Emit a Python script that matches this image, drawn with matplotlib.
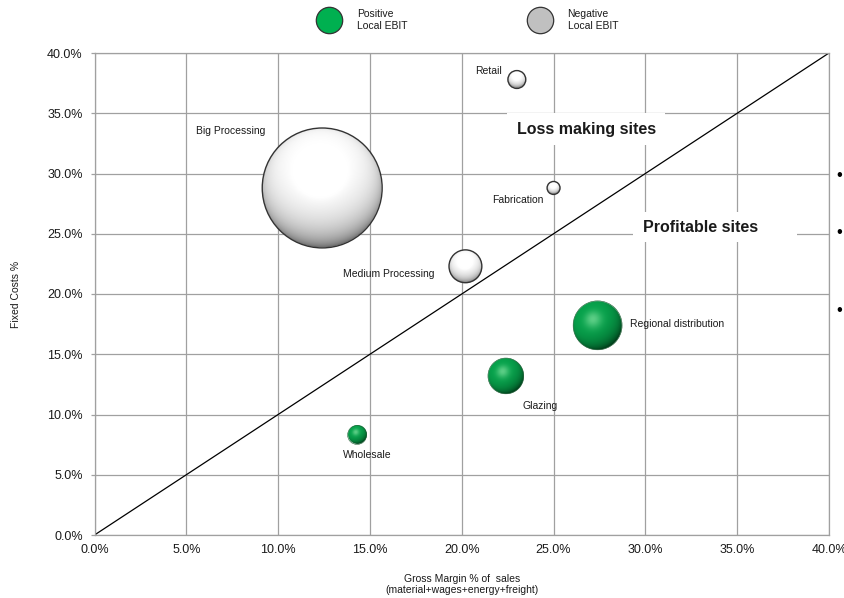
import numpy as np
import matplotlib
matplotlib.use("Agg")
import matplotlib.pyplot as plt
from matplotlib.lines import Line2D
from matplotlib.patches import Rectangle

plt.rcParams['font.family'] = ['Liberation Sans', 'DejaVu Sans']

# ---- data -------------------------------------------------------------
sites = ["Big Processing", "Retail", "Fabrication", "Medium Processing",
         "Wholesale", "Regional distribution", "Glazing"]
gross_margin = [12.4, 23.0, 25.0, 20.2, 14.3, 27.4, 22.4]      # % of sales
fixed_costs = [28.8, 37.8, 28.8, 22.3, 8.3, 17.4, 13.2]        # %
volume = [360, 8, 4.2, 27, 9, 60, 32]                          # bubble size (area)
positive_ebit = [False, False, False, False, True, True, True]

axis_ticks = [0, 5, 10, 15, 20, 25, 30, 35, 40]
tick_labels = [f"{t:.1f}%" for t in axis_ticks]

# label offsets (points) relative to each bubble centre
label_offsets = {
    "Big Processing": (-66, 41),
    "Retail": (-20.5, 5.8),
    "Fabrication": (-26, -8.4),
    "Medium Processing": (-55, -5.3),
    "Wholesale": (7.2, -14.4),
    "Regional distribution": (57.4, 0.7),
    "Glazing": (24.5, -21.6),
}

GRID = '#a0a0a0'
TEXT = '#1a1a1a'


def sphere_rgba(positive, n=300):
    t = np.linspace(-1, 1, n)
    u, v = np.meshgrid(t, -t)
    d = np.hypot(u, v)
    z = np.sqrt(np.clip(1 - d ** 2, 0, 1))
    if positive:
        L = np.array([-0.35, 0.5, 0.79])
    else:
        L = np.array([-0.05, 0.5, 0.86])
    L = L / np.linalg.norm(L)
    ndl = u * L[0] + v * L[1] + z * L[2]
    w = 0.35
    diff = np.clip((ndl + w) / (1 + w), 0, 1)
    H = L + np.array([0, 0, 1.0])
    H = H / np.linalg.norm(H)
    spec = np.clip(u * H[0] + v * H[1] + z * H[2], 0, 1)
    if positive:
        dark = np.array([0.0, 0.24, 0.10])
        base = np.array([0.03, 0.64, 0.30])
        hl = np.array([0.50, 0.88, 0.62])
        k = 1 - (1 - diff[..., None]) ** 1.7
        col = dark + (base - dark) * k
        s = (spec ** 16)[..., None] * 0.7
        col = col + (hl - col) * s
    else:
        g = 1 - 0.58 * (1 - diff) ** 1.6 + 0.2 * spec ** 20
        col = np.repeat(np.clip(g, 0, 1)[..., None], 3, axis=2)
    alpha = np.clip((1 - d) * n / 2, 0, 1)
    rgba = np.dstack([np.clip(col, 0, 1), alpha])
    return rgba


fig = plt.figure(figsize=(8.44, 5.98), dpi=100)
ax = fig.add_axes([94.5 / 844, (598 - 535) / 598, (829 - 94.5) / 844, (535 - 53) / 598])
ax.set_xlim(0, 40)
ax.set_ylim(0, 40)

ax.set_axisbelow(True)
ax.grid(True, color=GRID, lw=0.9)
for sp in ax.spines.values():
    sp.set_color(GRID)
    sp.set_linewidth(0.9)

ax.set_xticks(axis_ticks)
ax.set_xticklabels(tick_labels)
ax.set_yticks(axis_ticks)
ax.set_yticklabels(tick_labels)
ax.tick_params(axis='x', length=0, pad=6.5, labelsize=9, labelcolor=TEXT)
ax.tick_params(axis='y', length=3, width=0.9, color=GRID, direction='out',
               pad=5.5, labelsize=9, labelcolor=TEXT)

ax.set_xlabel("Gross Margin % of  sales\n(material+wages+energy+freight)",
              fontsize=7.5, color=TEXT, linespacing=1.15)
ax.xaxis.set_label_coords(0.5, -(574 - 535) / 482)
ax.set_ylabel("Fixed Costs %", fontsize=7.5, color=TEXT)
ax.yaxis.set_label_coords(-0.100, 0.5)

# break-even diagonal
ax.plot([0, 40], [0, 40], color='black', lw=0.9, zorder=2)

# white panels behind the region captions
ax.add_patch(Rectangle((22.47, 32.37), 8.6, 2.61, facecolor='white',
                       edgecolor='none', zorder=1.2))
ax.add_patch(Rectangle((29.33, 24.32), 8.93, 2.48, facecolor='white',
                       edgecolor='none', zorder=1.2))
ax.text(26.77, 33.61, "Loss making sites", fontsize=11.5, fontweight='bold',
        ha='center', va='center', color=TEXT, zorder=3)
ax.text(32.98, 25.48, "Profitable sites", fontsize=11.5, fontweight='bold',
        ha='center', va='center', color=TEXT, zorder=3)

# shaded bubbles
fig.canvas.draw()
p0 = ax.transData.transform((0, 0))
p1 = ax.transData.transform((1, 1))
px_per_x = p1[0] - p0[0]
px_per_y = p1[1] - p0[1]
px_scale = 3.16  # pixels of radius per sqrt(volume)

for name, gx, fy, vol, pos in zip(sites, gross_margin, fixed_costs, volume, positive_ebit):
    r_px = px_scale * np.sqrt(vol)
    rx = r_px / px_per_x
    ry = r_px / px_per_y
    ax.imshow(sphere_rgba(pos), extent=[gx - rx, gx + rx, fy - ry, fy + ry],
              aspect='auto', interpolation='antialiased', zorder=4)
    r_pt = r_px * 72 / fig.dpi
    edge = '#1f5f35' if pos else '#333333'
    elw = 0.4 if pos else 1.0
    ax.scatter([gx], [fy], s=(2 * r_pt) ** 2, facecolor='none', edgecolor=edge,
               linewidth=elw, zorder=5)
    dx, dy = label_offsets[name]
    ax.annotate(name, (gx, fy), xytext=(dx, dy), textcoords='offset points',
                ha='center', va='center', fontsize=7.5, color=TEXT, zorder=6)

ax.set_xlim(0, 40)
ax.set_ylim(0, 40)

# legend
handles = [
    Line2D([], [], marker='o', ls='', markersize=19, markerfacecolor='#00b050',
           markeredgecolor='#333333', markeredgewidth=0.9),
    Line2D([], [], marker='o', ls='', markersize=19, markerfacecolor='#c0c0c0',
           markeredgecolor='#333333', markeredgewidth=0.9),
]
fig.legend(handles, ["Positive\nLocal EBIT", "Negative\nLocal EBIT"], ncol=2,
           loc='center', bbox_to_anchor=(466.8 / 844, 1 - 20 / 598),
           frameon=False, fontsize=7.5, handlelength=2.6, handletextpad=1.37,
           columnspacing=11.4, borderpad=0, borderaxespad=0,
           labelcolor=TEXT)

# bullets at the right edge
for yb in (180, 237.5, 314.5):
    fig.text(839 / 844, 1 - yb / 598, "\u2022", fontsize=12, ha='center',
             va='baseline', color='black')

fig.savefig("out.png", dpi=100)
